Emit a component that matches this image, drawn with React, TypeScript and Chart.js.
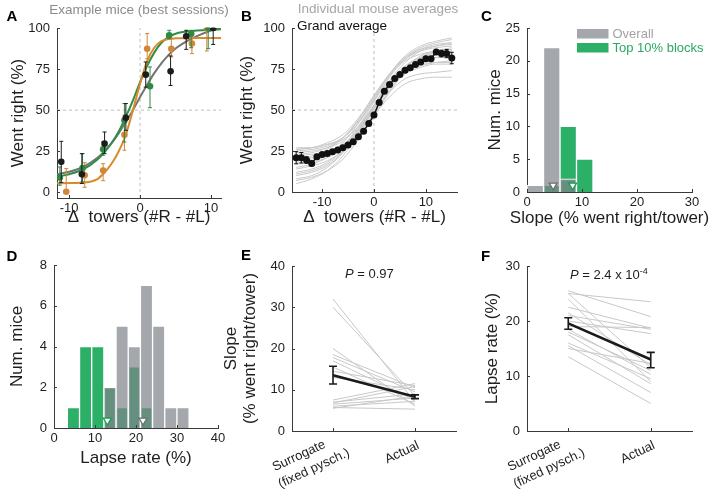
import React, { useEffect, useRef } from 'react';
import { Chart, registerables } from 'chart.js';

Chart.register(...registerables);

// ---------------- Panel A: example mice (best sessions) ----------------
const aXTicks = [-10, 0, 10];
const aYTicks = [0, 25, 50, 75, 100];
const aBlackX = [-11.1, -8.2, -5.0, -2.0, 0.8, 4.3, 6.5, 10.3];
const aBlackY = [18.5, 11, 29.6, 45.4, 71.6, 73.6, 95, 100];
const aBlackLo = [6, 5.3, 23.5, 37.7, 64, 65, 87, 90];
const aBlackHi = [31, 23.5, 36.7, 54, 79.3, 83, 98.6, 100];
const aGreenX = [-11.3, -8.1, -5.2, -2.2, 1.4, 4.1, 7.2, 9.6];
const aGreenY = [9, 14.8, 26.2, 43.8, 64.5, 95.5, 96.5, 100];
const aGreenLo = [4.3, 6.3, 22.5, 30.6, 51.5, 93.5, 88, 87.4];
const aGreenHi = [15.4, 23.5, 30.6, 54, 76.3, 98.6, 98.6, 100];
const aOrangeX = [-10.4, -7.8, -5.2, -2.2, 1.0, 4.4, 7.3, 9.4];
const aOrangeY = [0.3, 10.3, 13.2, 35, 87.4, 87.4, 90.5, 100];
const aOrangeLo = [0, 3, 7, 25.6, 81.3, 82.4, 84.4, 86];
const aOrangeHi = [14.4, 18, 17.4, 47, 96.6, 93.5, 96.6, 100];
const aFitX = [-11.7, -10, -8, -6, -5, -4, -3, -2, -1, 0, 1, 2, 3, 4, 5, 6, 8, 10, 11.4];
const aFitBlack = [11, 12.5, 15.5, 21, 25, 30, 36, 43, 50, 58, 65.5, 72.5, 78.5, 83.5, 87.5, 90.5, 95, 98.5, 100];
const aFitGreen = [9.5, 11, 14, 20, 24.5, 30, 37, 46, 56, 67, 77, 85, 91, 94.5, 96.5, 97.5, 98.5, 99, 99.2];
const aFitOrange = [5.5, 5.6, 5.9, 8, 12, 17.5, 25, 35, 50, 66, 80, 88, 92, 93.3, 93.7, 93.8, 93.9, 93.9, 93.9];
const aRefX = 0;
const aRefY = 50;

// ---------------- Panel B: individual mouse averages ----------------
const bXTicks = [-10, 0, 10];
const bYTicks = [0, 25, 50, 75, 100];
const bAvgX = [-15, -14, -13, -12, -11, -10, -9, -8, -7, -6, -5, -4, -3, -2, -1, 0, 1, 2, 3, 4, 5, 6, 7, 8, 9, 10, 11, 12, 13, 14, 15];
const bAvgY = [20.9, 20.9, 19.5, 17.4, 21.5, 22.9, 23.5, 24.5, 25.6, 27, 28.6, 30.6, 33.7, 37.1, 41.8, 46.9, 54.6, 61.5, 65.5, 69.2, 71.6, 74.2, 75.7, 77.7, 79.3, 81.3, 81.3, 85.4, 84.4, 84.4, 81.7];
const bAvgErr = [3.7, 3.2, 2, 1.5, 1.2, 1, 1, 1, 1, 1, 1, 1, 1, 1, 1, 1, 1, 1, 1, 1, 1, 1, 1, 1, 1, 1, 1, 1.5, 2, 2.5, 3.5];
const bCurveX = [-15, -12, -9, -6, -3, 0, 3, 6, 9, 12, 15];
const bCurves = [
  [26, 27, 29, 33, 42, 56, 71, 82, 88, 91, 93],
  [24, 25, 27, 31, 40, 53, 67, 77, 82, 84, 85],
  [20, 21, 24, 30, 42, 57, 72, 83, 89, 92, 94],
  [15, 17, 21, 28, 40, 55, 70, 81, 87, 90, 91],
  [12, 14, 18, 26, 38, 53, 68, 79, 86, 89, 90],
  [8, 10, 15, 24, 37, 52, 66, 76, 82, 85, 86],
  [5, 8, 13, 22, 36, 52, 66, 75, 80, 82, 83],
  [22, 23, 25, 29, 37, 49, 61, 69, 72, 73, 74],
  [18, 19, 22, 27, 36, 47, 58, 66, 69, 70, 70],
  [25, 26, 28, 33, 43, 56, 68, 75, 78, 79, 79],
  [10, 12, 16, 24, 36, 50, 63, 72, 76, 78, 78],
  [14, 16, 19, 25, 35, 48, 62, 74, 82, 86, 88],
  [27, 27, 29, 32, 40, 52, 64, 73, 77, 79, 80],
  [20, 22, 26, 33, 44, 58, 72, 81, 86, 88, 89],
  [17, 18, 21, 27, 38, 51, 64, 74, 80, 82, 83],
  [23, 24, 27, 33, 44, 58, 71, 80, 84, 86, 87],
  [7, 9, 13, 20, 32, 46, 61, 73, 80, 84, 86],
  [19, 20, 23, 28, 39, 52, 65, 75, 80, 82, 82],
  [26, 27, 30, 35, 45, 59, 72, 82, 87, 89, 91],
  [11, 13, 17, 25, 37, 51, 65, 76, 83, 86, 87],
];

// ---------------- Panel C: slope histogram ----------------
const cXTicks = [0, 10, 20, 30];
const cYTicks = [0, 5, 10, 15, 20, 25];
const cBinCenters = [1.5, 4.5, 7.5, 10.5];
const cOverall = [1, 22, 2, 0];
const cTop = [0, 1, 10, 5];
const cMedians = [4.75, 8.3]; // overall, top 10%
const cMarkerY = 1.0;

// ---------------- Panel D: lapse rate histogram ----------------
const dXTicks = [0, 10, 20, 30, 40];
const dYTicks = [0, 2, 4, 6, 8];
const dBinCenters = [4.74, 7.71, 10.68, 13.65, 16.62, 19.59, 22.56, 25.53, 28.5, 31.47];
const dOverall = [0, 0, 0, 2, 5, 4, 7, 5, 1, 1];
const dTop = [1, 4, 4, 2, 1, 3, 1, 0, 0, 0];
const dMedians = [21.7, 13.0]; // overall, top 10%
const dMarkerY = 0.37;

// ---------------- Panels E / F: surrogate vs actual ----------------
const efCategories = [['Surrogate', '(fixed pysch.)'], ['Actual']];
const efCatX = [1, 2];
const eYTicks = [0, 10, 20, 30, 40];
const eSurrogate = [32, 30, 20, 18.5, 17.8, 17, 15.5, 14.5, 13, 7.5, 7, 6.8, 6.5, 6, 5.7, 5.5];
const eActual = [7, 8.5, 6, 10.5, 9.5, 7.5, 6.5, 11, 10, 11.5, 9, 10.8, 8, 7.2, 5.3, 8.5];
const eMean = [13.5, 8.3];
const eLo = [11.4, 7.85];
const eHi = [15.7, 8.75];
const fYTicks = [0, 10, 20, 30];
const fSurrogate = [25.5, 25, 25, 24, 22.5, 21.5, 21, 20, 19, 18.5, 18, 17.5, 16, 15.5, 15, 13.5];
const fActual = [20.8, 23.5, 11.5, 9, 18.7, 12, 18.5, 17.7, 18.8, 10.3, 11, 8.6, 9.5, 7, 12.3, 5];
const fMean = [19.55, 13.0];
const fLo = [18.5, 11.5];
const fHi = [20.6, 14.3];

// ---------------- styling helpers ----------------
const W = 714;
const H = 495;
const FONT = "'Liberation Sans', Arial, Helvetica, sans-serif";
const AXIS_COLOR = '#3a3a3a';
const TEXT = '#1e1e1e';
const f = (s: number, style = '') => `${style}${s}px ${FONT}`;
const BLACK = '#1c1c1c';
const GREEN_PT = '#2e8a43';
const ORANGE_PT = '#d2863a';
const GRAY_FIT = '#737373';
const GREEN_FIT = '#2f8d45';
const ORANGE_FIT = '#d98a2c';
const BAR_GRAY = 'rgba(126,129,136,0.7)';
const BAR_GREEN = 'rgb(44,176,104)';

type Box = { L: number; R: number; T: number; B: number };
type Run = { t: string; font: string; dy?: number };
type TextItem = { runs: string | Run[]; x: number; y: number; font?: string; color?: string; align?: 'left' | 'center' | 'right'; rot?: number; baseline?: CanvasTextBaseline };

function drawText(ctx: CanvasRenderingContext2D, it: TextItem) {
  ctx.save();
  ctx.translate(it.x, it.y);
  if (it.rot) ctx.rotate((it.rot * Math.PI) / 180);
  ctx.fillStyle = it.color || TEXT;
  ctx.textBaseline = it.baseline || 'alphabetic';
  ctx.textAlign = 'left';
  const runs: Run[] = typeof it.runs === 'string' ? [{ t: it.runs, font: it.font || f(13) }] : it.runs;
  let total = 0;
  for (const r of runs) { ctx.font = r.font; total += ctx.measureText(r.t).width; }
  let x0 = it.align === 'center' ? -total / 2 : it.align === 'right' ? -total : 0;
  for (const r of runs) {
    ctx.font = r.font;
    ctx.fillText(r.t, x0, r.dy || 0);
    x0 += ctx.measureText(r.t).width;
  }
  ctx.restore();
}

function inwardTicks(chart: any, len = 3) {
  const { ctx, chartArea: a } = chart;
  const xs = chart.scales.x, ys = chart.scales.y;
  ctx.save();
  ctx.strokeStyle = AXIS_COLOR;
  ctx.lineWidth = 1;
  ctx.beginPath();
  for (const t of xs.ticks) {
    const p = Math.round(xs.getPixelForValue(t.value)) + 0.5;
    ctx.moveTo(p, a.bottom); ctx.lineTo(p, a.bottom - len);
  }
  for (const t of ys.ticks) {
    const p = Math.round(ys.getPixelForValue(t.value)) + 0.5;
    ctx.moveTo(a.left, p); ctx.lineTo(a.left + len, p);
  }
  ctx.stroke();
  ctx.restore();
}

function errorBars(chart: any, xs: number[], lo: number[], hi: number[], color: string, cap: number, lw: number) {
  const { ctx } = chart;
  const X = chart.scales.x, Y = chart.scales.y;
  ctx.save();
  ctx.strokeStyle = color;
  ctx.lineWidth = lw;
  ctx.beginPath();
  xs.forEach((x, i) => {
    const px = X.getPixelForValue(x);
    const p1 = Y.getPixelForValue(lo[i]);
    const p2 = Y.getPixelForValue(hi[i]);
    ctx.moveTo(px, p1); ctx.lineTo(px, p2);
    ctx.moveTo(px - cap, p1); ctx.lineTo(px + cap, p1);
    ctx.moveTo(px - cap, p2); ctx.lineTo(px + cap, p2);
  });
  ctx.stroke();
  ctx.restore();
}

function linScale(axis: 'x' | 'y', min: number, max: number, ticks: number[], showLabels = true) {
  return {
    type: 'linear',
    min, max,
    offset: false,
    grid: { display: false, drawTicks: false },
    border: { display: true, color: AXIS_COLOR, width: 1 },
    ticks: {
      display: showLabels,
      padding: axis === 'x' ? 3 : 7,
      color: TEXT,
      font: { family: FONT, size: 13 },
      autoSkip: false, maxRotation: 0, minRotation: 0,
    },
    afterBuildTicks: (s: any) => { s.ticks = ticks.map((v) => ({ value: v })); },
    afterFit: (s: any) => { if (axis === 'x') s.height = 40; else s.width = 40; },
  };
}

function baseOptions(b: Box, scales: any) {
  return {
    responsive: false,
    animation: false,
    events: [],
    layout: { padding: { left: b.L - 40, right: W - b.R, top: b.T, bottom: H - b.B - 40 } },
    plugins: { legend: { display: false }, tooltip: { enabled: false }, title: { display: false } },
    scales,
  };
}

function deco(opts: { texts?: TextItem[]; before?: (c: any, i: number) => void; after?: (c: any) => void }) {
  return {
    id: 'deco',
    beforeDatasetDraw(chart: any, args: any) { if (opts.before) opts.before(chart, args.index); },
    afterDraw(chart: any) {
      inwardTicks(chart);
      if (opts.after) opts.after(chart);
      (opts.texts || []).forEach((t) => drawText(chart.ctx, t));
    },
  };
}

const pts = (xs: number[], ys: number[]) => xs.map((x, i) => ({ x, y: ys[i] }));

function curve(xs: number[], ys: number[], color: string, width: number, order: number) {
  return { data: pts(xs, ys), showLine: true, borderColor: color, borderWidth: width, pointRadius: 0, cubicInterpolationMode: 'monotone', order };
}
function dots(xs: number[], ys: number[], color: string, r: number, order: number, line = false) {
  return { data: pts(xs, ys), showLine: line, borderColor: color, borderWidth: line ? 1.5 : 0, pointRadius: r, pointBackgroundColor: color, pointBorderColor: color, pointBorderWidth: 0, order };
}
function dashed(xs: number[], ys: number[], order: number) {
  return { data: pts(xs, ys), showLine: true, borderColor: '#bdbdbd', borderWidth: 1, borderDash: [3, 3], pointRadius: 0, order };
}

const LETTER = f(15, 'bold ');

// ---------------- configs ----------------
function configA() {
  const b = { L: 57, R: 221, T: 28, B: 198 };
  const xMin = -11.7, xMax = 11.4, yMin = -3.5, yMax = 100;
  const datasets = [
    dots(aBlackX, aBlackY, BLACK, 3.3, 0),
    dots(aGreenX, aGreenY, GREEN_PT, 3.3, 1),
    dots(aOrangeX, aOrangeY, ORANGE_PT, 3.3, 2),
    curve(aFitX, aFitOrange, ORANGE_FIT, 2, 3),
    curve(aFitX, aFitGreen, GREEN_FIT, 2, 4),
    curve(aFitX, aFitBlack, GRAY_FIT, 2, 5),
    dashed([aRefX, aRefX], [yMin, yMax], 6),
    dashed([xMin, xMax], [aRefY, aRefY], 7),
  ];
  return {
    type: 'scatter',
    data: { datasets },
    options: baseOptions(b, { x: linScale('x', xMin, xMax, aXTicks), y: linScale('y', yMin, yMax, aYTicks) }),
    plugins: [deco({
      before: (c, i) => {
        if (i === 0) errorBars(c, aBlackX, aBlackLo, aBlackHi, BLACK, 2, 1);
        if (i === 1) errorBars(c, aGreenX, aGreenLo, aGreenHi, GREEN_PT, 2, 1);
        if (i === 2) errorBars(c, aOrangeX, aOrangeLo, aOrangeHi, ORANGE_PT, 2, 1);
      },
      texts: [
        { runs: 'A', x: 6.5, y: 20.5, font: LETTER, color: '#000' },
        { runs: 'Example mice (best sessions)', x: 139, y: 13.5, font: f(13.5), color: '#8c8c8c', align: 'center' },
        { runs: 'Δ  towers (#R - #L)', x: 139, y: 222, font: f(17), align: 'center' },
        { runs: 'Went right (%)', x: 23, y: 113, font: f(17), align: 'center', rot: -90 },
      ],
    })],
  };
}

function configB() {
  const b = { L: 292, R: 457, T: 28, B: 192 };
  const xMin = -15.8, xMax = 16, yMin = 0, yMax = 100;
  const datasets: any[] = [dots(bAvgX, bAvgY, '#111111', 3.5, 0, true)];
  bCurves.forEach((c) => datasets.push(curve(bCurveX, c, '#c9c9c9', 1, 1)));
  datasets.push(dashed([0, 0], [yMin, yMax], 2));
  datasets.push(dashed([xMin, xMax], [50, 50], 2));
  return {
    type: 'scatter',
    data: { datasets },
    options: baseOptions(b, { x: linScale('x', xMin, xMax, bXTicks), y: linScale('y', yMin, yMax, bYTicks) }),
    plugins: [deco({
      before: (c, i) => {
        if (i === 0) errorBars(c, bAvgX, bAvgY.map((v, k) => v - bAvgErr[k]), bAvgY.map((v, k) => v + bAvgErr[k]), '#111111', 2, 1);
      },
      texts: [
        { runs: 'B', x: 241, y: 21, font: LETTER, color: '#000' },
        { runs: 'Individual mouse averages', x: 378, y: 13, font: f(13.5), color: '#a6a6a6', align: 'center' },
        { runs: 'Grand average', x: 297, y: 30, font: f(13.5), color: '#111' },
        { runs: 'Δ  towers (#R - #L)', x: 374.5, y: 222, font: f(17), align: 'center' },
        { runs: 'Went right (%)', x: 251.5, y: 110, font: f(17), align: 'center', rot: -90 },
      ],
    })],
  };
}

function histDatasets(centers: number[], overall: number[], top: number[], medians: number[], my: number) {
  const bars = (vals: number[], color: string, order: number) => ({
    type: 'bar',
    data: centers.map((x, i) => ({ x, y: vals[i] > 0 ? vals[i] : null })),
    backgroundColor: color,
    borderColor: 'rgba(255,255,255,0.95)',
    borderWidth: 1,
    borderSkipped: 'start',
    grouped: false,
    barPercentage: 1,
    categoryPercentage: 1,
    order,
  });
  return [
    {
      type: 'scatter',
      data: [{ x: medians[0], y: my }, { x: medians[1], y: my }],
      pointStyle: 'triangle',
      rotation: 180,
      pointRadius: 4.5,
      pointBackgroundColor: '#ffffff',
      pointBorderColor: ['#6e6e6e', '#1f9a52'],
      pointBorderWidth: 1.3,
      order: 0,
    },
    bars(overall, BAR_GRAY, 1),
    bars(top, BAR_GREEN, 2),
  ];
}

function configC() {
  const b = { L: 527, R: 692, T: 28, B: 192 };
  return {
    type: 'bar',
    data: { datasets: histDatasets(cBinCenters, cOverall, cTop, cMedians, cMarkerY) },
    options: baseOptions(b, { x: linScale('x', 0, 30, cXTicks), y: linScale('y', 0, 25, cYTicks) }),
    plugins: [deco({
      after: (c) => {
        const ctx = c.ctx;
        ctx.save();
        ctx.fillStyle = BAR_GRAY; ctx.fillRect(577, 29, 31.5, 9.5);
        ctx.fillStyle = BAR_GREEN; ctx.fillRect(577, 43, 31.5, 9.5);
        ctx.restore();
      },
      texts: [
        { runs: 'C', x: 481, y: 20.5, font: LETTER, color: '#000' },
        { runs: 'Overall', x: 612.5, y: 38.3, font: f(13), color: '#a3a3a3' },
        { runs: 'Top 10% blocks', x: 612.5, y: 52.3, font: f(13), color: '#2aa862' },
        { runs: 'Slope (% went right/tower)', x: 609.5, y: 222.5, font: f(17), align: 'center' },
        { runs: 'Num. mice', x: 500, y: 110, font: f(17), align: 'center', rot: -90 },
      ],
    })],
  };
}

function configD() {
  const b = { L: 54, R: 218, T: 265, B: 428 };
  return {
    type: 'bar',
    data: { datasets: histDatasets(dBinCenters, dOverall, dTop, dMedians, dMarkerY) },
    options: baseOptions(b, { x: linScale('x', 0, 40, dXTicks), y: linScale('y', 0, 8, dYTicks) }),
    plugins: [deco({
      texts: [
        { runs: 'D', x: 6.5, y: 260.5, font: LETTER, color: '#000' },
        { runs: 'Lapse rate (%)', x: 136, y: 463, font: f(17), align: 'center' },
        { runs: 'Num. mice', x: 21.5, y: 346.5, font: f(17), align: 'center', rot: -90 },
      ],
    })],
  };
}

const catLineOffsets = [[[-34, 25], [-19, 37.5]], [[-13, 21.5]]];

function drawCategories(c: any) {
  const ctx = c.ctx;
  const X = c.scales.x;
  const base = c.chartArea.bottom;
  efCategories.forEach((lines, i) => {
    const px = X.getPixelForValue(efCatX[i]);
    lines.forEach((line, k) => {
      const off = catLineOffsets[i][k];
      drawText(ctx, { runs: line, x: px + off[0], y: base + off[1], font: f(13), align: 'center', rot: -25, baseline: 'middle' });
    });
  });
}

function pairedConfig(b: Box, yMax: number, yTicks: number[], sur: number[], act: number[], mean: number[], lo: number[], hi: number[], texts: TextItem[]) {
  const datasets: any[] = [
    { data: pts(efCatX, mean), showLine: true, borderColor: '#1a1a1a', borderWidth: 2.5, pointRadius: 0, order: 0 },
  ];
  sur.forEach((s, i) => datasets.push({ data: pts(efCatX, [s, act[i]]), showLine: true, borderColor: '#c8c8c8', borderWidth: 1, pointRadius: 0, order: 1 }));
  return {
    type: 'scatter',
    data: { datasets },
    options: baseOptions(b, { x: linScale('x', 0.5, 2.5, efCatX, false), y: linScale('y', 0, yMax, yTicks) }),
    plugins: [deco({
      after: (c) => { errorBars(c, efCatX, lo, hi, '#1a1a1a', 4, 1.6); drawCategories(c); },
      texts,
    })],
  };
}

function configE() {
  return pairedConfig({ L: 292, R: 456, T: 266, B: 431 }, 40, eYTicks, eSurrogate, eActual, eMean, eLo, eHi, [
    { runs: 'E', x: 241, y: 260, font: LETTER, color: '#000' },
    { runs: [{ t: 'P', font: f(13, 'italic ') }, { t: ' = 0.97', font: f(13) }], x: 345, y: 278 },
    { runs: 'Slope', x: 236, y: 348.5, font: f(17), align: 'center', rot: -90 },
    { runs: '(% went right/tower)', x: 254.5, y: 348.5, font: f(17), align: 'center', rot: -90 },
  ]);
}

function configF() {
  return pairedConfig({ L: 527, R: 692, T: 266, B: 431 }, 30, fYTicks, fSurrogate, fActual, fMean, fLo, fHi, [
    { runs: 'F', x: 481, y: 261, font: LETTER, color: '#000' },
    { runs: [{ t: 'P', font: f(13, 'italic ') }, { t: ' = 2.4 x 10', font: f(13) }, { t: '-4', font: f(9), dy: -5 }], x: 570, y: 279 },
    { runs: 'Lapse rate (%)', x: 496.5, y: 348.5, font: f(17), align: 'center', rot: -90 },
  ]);
}

function ChartCanvas({ make }: { make: () => any }) {
  const ref = useRef<HTMLCanvasElement>(null);
  useEffect(() => {
    const chart = new Chart(ref.current as HTMLCanvasElement, make());
    return () => chart.destroy();
  }, []);
  return (
    <canvas
      ref={ref}
      width={W}
      height={H}
      style={{ position: 'absolute', left: 0, top: 0, width: W, height: H }}
    />
  );
}

export default function App() {
  return (
    <div style={{ position: 'fixed', left: 0, top: 0, width: W, height: H, background: '#ffffff', overflow: 'hidden' }}>
      <ChartCanvas make={configB} />
      <ChartCanvas make={configC} />
      <ChartCanvas make={configD} />
      <ChartCanvas make={configE} />
      <ChartCanvas make={configF} />
      <ChartCanvas make={configA} />
    </div>
  );
}
